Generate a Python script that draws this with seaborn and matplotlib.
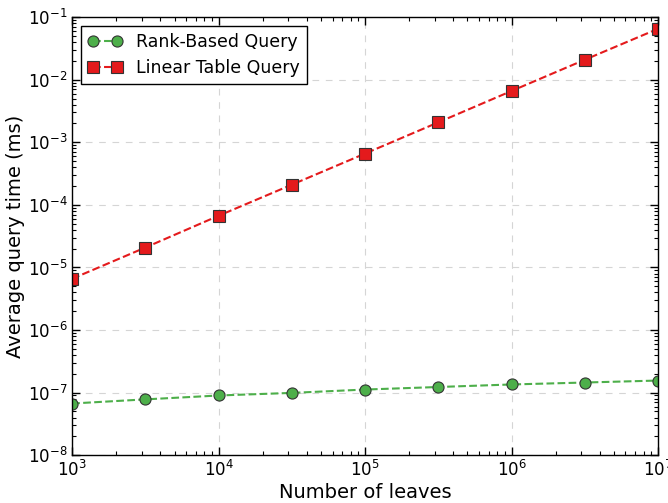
import numpy as np
import pandas as pd
import matplotlib
matplotlib.use("Agg")
import matplotlib.pyplot as plt
from matplotlib.ticker import LogLocator, NullFormatter
import seaborn as sns

# Data
leaves = [1e3, 3.16e3, 1e4, 3.16e4, 1e5, 3.16e5, 1e6, 3.16e6, 1e7]
rank_time = [6.7e-8, 7.8e-8, 9.0e-8, 9.9e-8, 1.12e-7, 1.23e-7, 1.35e-7, 1.45e-7, 1.56e-7]
linear_time = [6.6e-6, 2.08e-5, 6.7e-5, 2.1e-4, 6.6e-4, 2.08e-3, 6.6e-3, 2.08e-2, 6.5e-2]

df = pd.DataFrame({
    "leaves": leaves * 2,
    "time": rank_time + linear_time,
    "method": ["Rank-Based Query"] * len(leaves) + ["Linear Table Query"] * len(leaves),
})

sns.set_style("white")
plt.rcParams["font.family"] = ["DejaVu Sans"]
plt.rcParams["mathtext.default"] = "regular"
plt.rcParams["text.color"] = "black"
plt.rcParams["axes.labelcolor"] = "black"
plt.rcParams["xtick.color"] = "black"
plt.rcParams["ytick.color"] = "black"

fig = plt.figure(figsize=(6.68, 5.03), dpi=100)
ax = fig.add_axes([0.108, 0.095, 0.877, 0.871])

colors = {"Rank-Based Query": "#4daf4a", "Linear Table Query": "#e41a1c"}
markers = {"Rank-Based Query": "o", "Linear Table Query": "s"}

for name in ["Rank-Based Query", "Linear Table Query"]:
    sub = df[df["method"] == name]
    sns.lineplot(data=sub, x="leaves", y="time", ax=ax, color=colors[name],
                 linestyle="--", linewidth=1.5, marker=markers[name], markersize=8,
                 markeredgecolor="#333333", markeredgewidth=0.8, label=name)

ax.set_xscale("log")
ax.set_yscale("log")
ax.set_xlim(1e3, 1e7)
ax.set_ylim(1e-8, 1e-1)
for axis in (ax.xaxis, ax.yaxis):
    axis.set_minor_locator(LogLocator(base=10, subs=np.arange(2, 10), numticks=100))
    axis.set_minor_formatter(NullFormatter())

ax.grid(True, which="major", linestyle=(0, (6, 6)), color="#d5d5d5", linewidth=0.8)
ax.tick_params(which="both", direction="in", bottom=True, left=True, top=True,
               right=True, labelsize=12, color="black")
ax.tick_params(which="major", length=6, width=1)
ax.tick_params(which="minor", length=3, width=0.8)
for s in ax.spines.values():
    s.set_color("black")
    s.set_linewidth(1)

ax.set_xlabel("Number of leaves", fontsize=14, labelpad=2)
ax.set_ylabel("Average query time (ms)", fontsize=14, labelpad=2)

leg = ax.legend(loc="upper left", numpoints=2, fontsize=12.5, fancybox=False,
                framealpha=1, edgecolor="black", handlelength=2)
leg.get_frame().set_linewidth(1)

fig.savefig("out.png", dpi=100)
